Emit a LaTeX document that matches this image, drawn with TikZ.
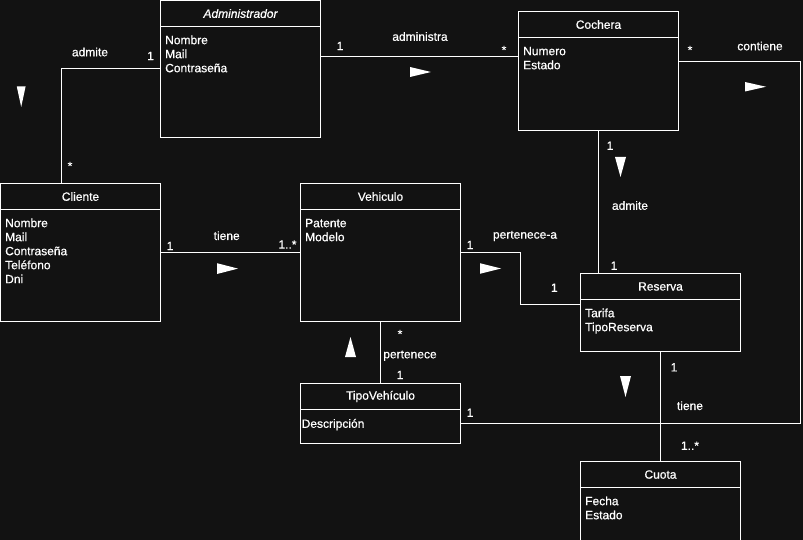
\documentclass[tikz,border=0pt]{standalone}
\usepackage{fontspec}
\setmainfont[FakeBold=0.6,AutoFakeBold=0.6]{Liberation Sans}
\usetikzlibrary{calc}
\definecolor{bg}{RGB}{18,18,18}
\begin{document}
\begin{tikzpicture}[x=1pt,y=-1pt,
  line/.style={draw=white,line width=1pt},
  cls/.style={draw=white,line width=1pt,inner sep=0pt,outer sep=0pt,minimum width=160pt,anchor=north west},
  ttl/.style={text=white,font=\fontsize{12}{14}\selectfont\bfseries,inner sep=0pt},
  attr/.style={text=white,font=\fontsize{12}{14}\selectfont\bfseries,inner sep=0pt,anchor=base west},
  lbl/.style={text=white,font=\fontsize{12}{14}\selectfont\bfseries,inner sep=0pt},
  conn/.style={draw=white,line width=1pt},
  tri/.style={fill=white}]
\fill[bg] (0,0) rectangle (803,540);
\useasboundingbox (0,0) rectangle (803,540);

% ---- classes ----
\node[cls,minimum height=137.5pt] (adm) at (160.5,0.5) {};
\draw[line] ($(adm.north west)+(0,26)$) -- ($(adm.north east)+(0,26)$);
\node[ttl] (adm-t) at ($(adm.north)+(0,13)$) {\itshape Administrador};
\foreach \t [count=\i] in {Nombre,Mail,Contraseña}
  \node[attr] (adm-a\i) at (165,{44.2+14*(\i-1)}) {\t};

\node[cls,minimum height=119.5pt] (coc) at (518.5,11.5) {};
\draw[line] ($(coc.north west)+(0,26)$) -- ($(coc.north east)+(0,26)$);
\node[ttl] (coc-t) at ($(coc.north)+(0,13)$) {Cochera};
\foreach \t [count=\i] in {Numero,Estado}
  \node[attr] (coc-a\i) at (523,{55.2+14*(\i-1)}) {\t};

\node[cls,minimum height=137.5pt] (cli) at (0.5,183.5) {};
\draw[line] ($(cli.north west)+(0,26)$) -- ($(cli.north east)+(0,26)$);
\node[ttl] (cli-t) at ($(cli.north)+(0,13)$) {Cliente};
\foreach \t [count=\i] in {Nombre,Mail,Contraseña,Teléfono,Dni}
  \node[attr] (cli-a\i) at (5,{227.2+14*(\i-1)}) {\t};

\node[cls,minimum height=137.5pt] (veh) at (300.5,183.5) {};
\draw[line] ($(veh.north west)+(0,26)$) -- ($(veh.north east)+(0,26)$);
\node[ttl] (veh-t) at ($(veh.north)+(0,13)$) {Vehiculo};
\foreach \t [count=\i] in {Patente,Modelo}
  \node[attr] (veh-a\i) at (305,{227.2+14*(\i-1)}) {\t};

\node[cls,minimum height=78pt] (res) at (580.5,273.5) {};
\draw[line] ($(res.north west)+(0,26)$) -- ($(res.north east)+(0,26)$);
\node[ttl] (res-t) at ($(res.north)+(0,13)$) {Reserva};
\foreach \t [count=\i] in {Tarifa,TipoReserva}
  \node[attr] (res-a\i) at (585,{317.2+14*(\i-1)}) {\t};

\node[cls,minimum height=60pt] (tip) at (300.5,383.5) {};
\draw[line] ($(tip.north west)+(0,26)$) -- ($(tip.north east)+(0,26)$);
\node[ttl] (tip-t) at ($(tip.north)+(0,13)$) {TipoVehículo};
\node[attr] (tip-a1) at (301.5,427.8) {Descripción};

\node[cls,minimum height=80pt] (cuo) at (580.5,461.5) {};
\draw[line] ($(cuo.north west)+(0,26)$) -- ($(cuo.north east)+(0,26)$);
\node[ttl] (cuo-t) at ($(cuo.north)+(0,13)$) {Cuota};
\foreach \t [count=\i] in {Fecha,Estado}
  \node[attr] (cuo-a\i) at (585,{505.2+14*(\i-1)}) {\t};

% ---- connectors ----
% Administrador - Cliente (admite)
\draw[conn] ($(adm.north west)+(0,68)$) -| ($(cli.north west)+(60.5,0)$);
\node[lbl] (l-adm1) at (90,52) {admite};
\node[lbl] (m-adm1) at (150.5,56) {1};
\node[lbl] (m-adm2) at (70,166) {*};
\fill[tri] (16.8,86.5) -- (25.6,86.5) -- (21.2,107) -- cycle;

% Administrador - Cochera (administra)
\draw[conn] ($(adm.north east)+(0,56)$) -- ($(coc.north west)+(0,45)$);
\node[lbl] (l-adm2) at (420,36.5) {administra};
\node[lbl] (m-adm3) at (340,46) {1};
\node[lbl] (m-coc1) at (504,50) {*};
\fill[tri] (410,67) -- (410,77) -- (431,72) -- cycle;

% Cochera - TipoVehiculo (contiene)
\coordinate (cr) at (800.5,61.5);
\draw[conn] ($(coc.north east)+(0,50)$) -- (cr) |- ($(tip.north east)+(0,40)$);
\node[lbl] (l-coc) at (760,46) {contiene};
\node[lbl] (m-coc2) at (690,50) {*};
\node[lbl] (m-tip1) at (470,412.7) {1};
\fill[tri] (745,82) -- (745,91.5) -- (766,86.75) -- cycle;

% Cochera - Reserva (admite)
\draw[conn] (coc.south) -- (coc.south |- res.north);
\node[lbl] (l-coc2) at (630,205.5) {admite};
\node[lbl] (m-coc3) at (610,145.7) {1};
\node[lbl] (m-res1) at (614,265.7) {1};
\fill[tri] (615,157) -- (626,157) -- (620.5,177) -- cycle;

% Cliente - Vehiculo (tiene)
\draw[conn] (cli.east) -- (veh.west);
\node[lbl] (l-cli) at (226.7,235.7) {tiene};
\node[lbl] (m-cli) at (170,246) {1};
\node[lbl] (m-veh1) at (287.5,244.5) {1..*};
\fill[tri] (217,263.2) -- (217,274) -- (238,268.6) -- cycle;

% Vehiculo - Reserva (pertenece-a)
\coordinate (pa) at (520.5,252.25);
\draw[conn] (veh.east) -- (pa) |- ($(res.north west)+(0,30.5)$);
\node[lbl] (l-veh) at (525,236) {pertenece-a};
\node[lbl] (m-veh2) at (470,245) {1};
\node[lbl] (m-res2) at (554.3,287.7) {1};
\fill[tri] (480,263.2) -- (480,273.8) -- (501,268.5) -- cycle;

% Vehiculo - TipoVehiculo (pertenece)
\draw[conn] (veh.south) -- (tip.north);
\node[lbl] (l-tip) at (410,355.7) {pertenece};
\node[lbl] (m-veh3) at (400,334) {*};
\node[lbl] (m-tip2) at (400,375) {1};
\fill[tri] (345,357) -- (356,357) -- (350.5,337) -- cycle;

% Reserva - Cuota (tiene)
\draw[conn] (res.south) -- (cuo.north);
\node[lbl] (l-res) at (690,405.7) {tiene};
\node[lbl] (m-res3) at (674,367.3) {1};
\node[lbl] (m-cuo) at (690,445.7) {1..*};
\fill[tri] (620,376) -- (631,376) -- (625.5,397) -- cycle;
\end{tikzpicture}
\end{document}
